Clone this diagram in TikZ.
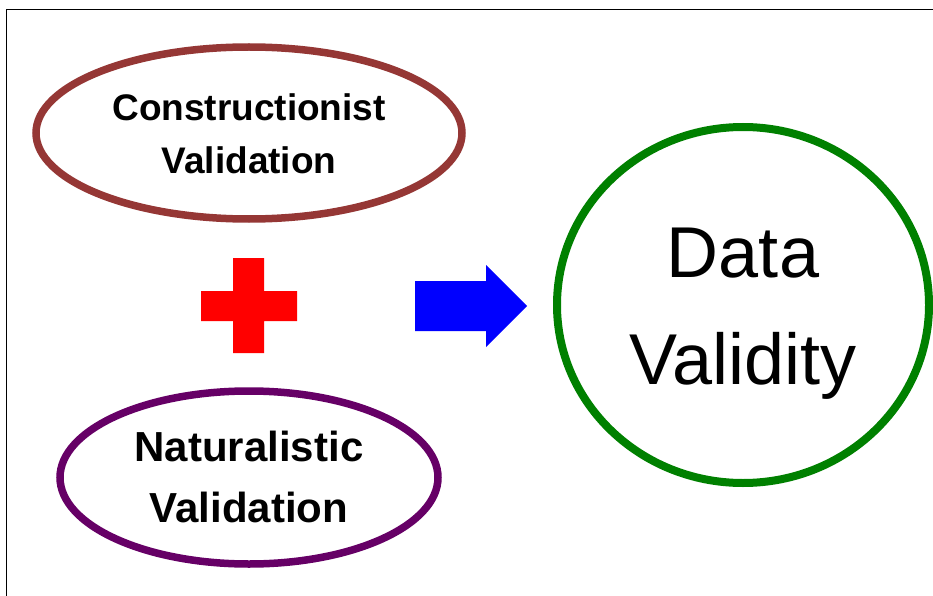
\documentclass[tikz,border=0pt]{standalone}
\usepackage{fontspec}
\setmainfont{Liberation Sans}
\usetikzlibrary{shapes.geometric}
\definecolor{cbrown}{HTML}{953735}
\definecolor{cpurple}{HTML}{660066}
\definecolor{cgreen}{HTML}{008000}
\begin{document}
\begin{tikzpicture}[x=1pt,y=-1pt,
  oval/.style={draw,ellipse,line width=7.5pt,inner sep=0pt,outer sep=0pt},
  lbl/.style={anchor=base,inner sep=0pt,font=\bfseries\fontsize{37}{44}\selectfont},
  lblb/.style={anchor=base,inner sep=0pt,font=\bfseries\fontsize{42}{50}\selectfont},
  big/.style={anchor=base,inner sep=0pt,font=\fontsize{72}{86}\selectfont}]
\useasboundingbox (0,0) rectangle (933,596);
\draw[line width=1.3pt] (6.5,596) -- (6.5,9.5) -- (933,9.5);
% ellipses
\node[oval,draw=cbrown,minimum width=426pt,minimum height=172pt] (cons) at (249,133) {};
\node[oval,draw=cpurple,minimum width=378pt,minimum height=173pt] (nat) at (249,477.5) {};
\node[oval,draw=cgreen,line width=8pt,minimum width=372pt,minimum height=356pt] (dv) at (743,305) {};
% texts
\node[lbl] (c1) at (249,121) {Constructionist};
\node[lbl] (c2) at (249,174) {Validation};
\node[lblb] (n1) at (249,461) {Naturalistic};
\node[lblb] (n2) at (249,522) {Validation};
\node[big] (d1) at (743,277) {Data};
\node[big] (d2) at (743,384) {Validity};
% plus sign
\fill[red] (233,258) -- (264,258) -- (264,291) -- (297,291) -- (297,321) -- (264,321)
  -- (264,353) -- (233,353) -- (233,321) -- (201,321) -- (201,291) -- (233,291) -- cycle;
% arrow
\fill[blue] (415,281) -- (486,281) -- (486,265) -- (527,306) -- (486,347) -- (486,331)
  -- (415,331) -- cycle;
\end{tikzpicture}
\end{document}
